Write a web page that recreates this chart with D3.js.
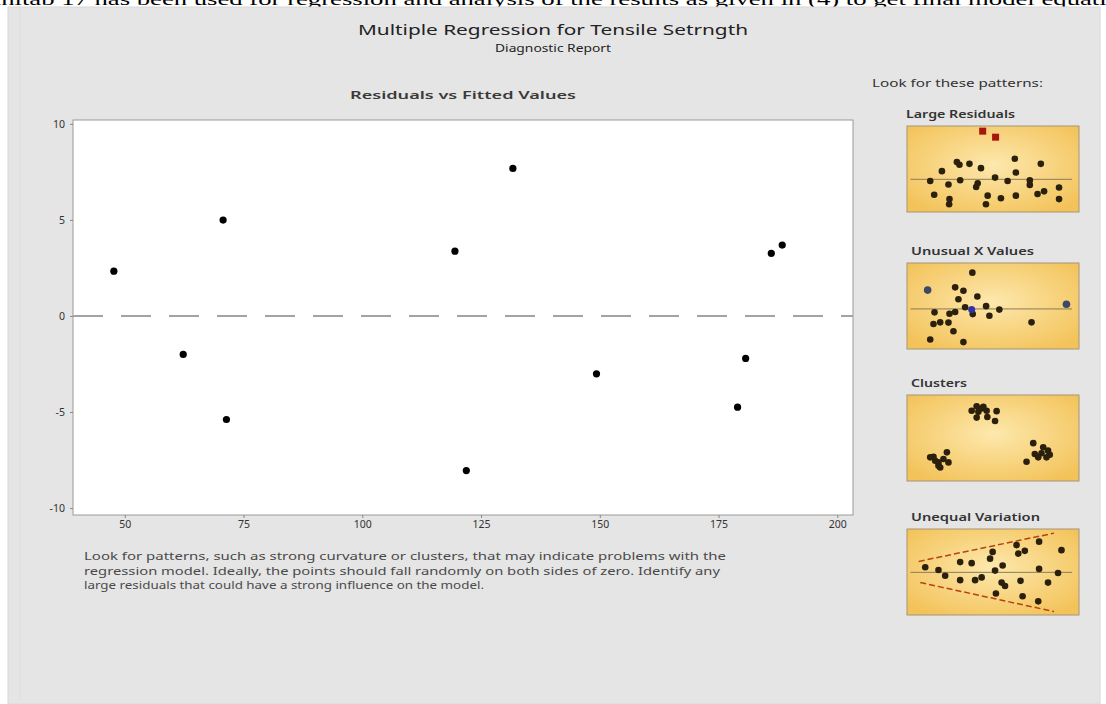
<!DOCTYPE html>
<html>
<head>
<meta charset="utf-8">
<script src="https://cdn.jsdelivr.net/npm/d3@7"></script>
<style>
	body { margin: 0; background: #fff; }
	svg { display: block; }
</style>
</head>
<body>
<svg id="chart" width="1106" height="704"></svg>
<script>

// residuals vs fitted values
const fitted = [47.7, 62.3, 70.7, 71.4, 119.5, 121.9, 131.7, 149.3, 179.0, 180.7, 186.1, 188.4]
const residuals = [2.33, -2.0, 4.99, -5.39, 3.37, -8.05, 7.68, -3.01, -4.75, -2.21, 3.26, 3.69]
const xTicks = [50, 75, 100, 125, 150, 175, 200]
const yTicks = [-10, -5, 0, 5, 10]

// pattern thumbnails, x and y on a 0..100 scale
const largeResDots = [[13.5, 36], [15.8, 20], [20.3, 47.5], [24.1, 32], [24.7, 15], [24.5, 9], [29, 58], [30.5, 55],
	[30.9, 37], [36.3, 56], [40.2, 29], [41.1, 33.5], [43, 51], [46.9, 19], [45.9, 9], [51.2, 40], [54.6, 16],
	[58.5, 36], [62.7, 62], [63.3, 46], [63.3, 19], [71.4, 37], [71.4, 31.5], [75.9, 21], [79.7, 24], [77.8, 56],
	[88.4, 28.5], [88.4, 15]]
const largeResOutliers = [[44, 94], [51.5, 87]]
const unusualXDots = [[16, 42.6], [15.4, 29], [19.3, 31], [24.1, 30.7], [13.5, 11], [27, 20.7], [32.8, 8], [28, 71.7],
	[32.8, 67.7], [29.9, 57.8], [24.7, 41], [28, 43], [33.8, 48.6], [38.2, 40.6], [40.9, 61], [46, 49.8],
	[47.9, 38.6], [53.7, 45.8], [72.4, 31], [38, 88.8]]
const unusualXOutliers = [[12, 68.5], [92.7, 52]]
const unusualXBlue = [[37.6, 45.8]]
const clusterDots = [[40.5, 87], [44.4, 86.3], [37.6, 81.6], [41.5, 80.4], [46.3, 81.6], [52.1, 81.2], [40.5, 73.7],
	[46.7, 74.5], [51.2, 69.8], [43.4, 84.3],
	[13.5, 27.5], [16.4, 23.5], [18.3, 21.6], [19.3, 15.7], [23.2, 33.3], [24.1, 21.6], [15.4, 28.2], [21.2, 25.5], [18.3, 17.6],
	[73.4, 44], [69.5, 22.4], [74.3, 31.4], [78.2, 32.2], [82, 35.3], [83, 30.6], [76.3, 27.5], [79.2, 39.2], [81.1, 27.5]]
const unequalDots = [[10.6, 55.6], [18.3, 52.4], [22.2, 45.6], [30.9, 61.5], [30.9, 40.5], [37.6, 60.3], [39.6, 40.5],
	[43.4, 43.7], [48.3, 65.5], [49.8, 73.4], [51.2, 51.6], [55, 37.7], [55.6, 57.5], [57, 33.7], [51.7, 25],
	[63.7, 81.3], [64.7, 71.4], [68.5, 74.6], [66, 39.7], [67.2, 21.8], [76.8, 85.3], [76.8, 53.6], [76.3, 15.9],
	[82, 37.7], [87.8, 48.8], [89.8, 75.4]]
const unequalBounds = [[[6.8, 62.3], [85.5, 95.2]], [[7.7, 37.7], [85.5, 4]]]

const patterns = [
	{ title: 'Large Residuals', mid: 38, dots: largeResDots, red: largeResOutliers, lines: [] },
	{ title: 'Unusual X Values', mid: 46.6, dots: unusualXDots, grey: unusualXOutliers, blue: unusualXBlue, lines: [] },
	{ title: 'Clusters', mid: null, dots: clusterDots, lines: [] },
	{ title: 'Unequal Variation', mid: 49.6, dots: unequalDots, lines: unequalBounds }
]

const bodyText = [
	'Look for patterns, such as strong curvature or clusters, that may indicate problems with the',
	'regression model. Ideally, the points should fall randomly on both sides of zero. Identify any',
	'large residuals that could have a strong influence on the model.'
]
const bodyWidths = [642, 636, 400]

const svg = d3.select('#chart')
const font = '"Noto Sans", "Open Sans", sans-serif'

// clipped line of the page text above the report
svg.append('text')
	.attr('x', -30)
	.attr('y', 5)
	.attr('textLength', 1150)
	.attr('lengthAdjust', 'spacingAndGlyphs')
	.style('font-family', '"Liberation Serif", serif')
	.style('font-size', '17px')
	.style('fill', '#000')
	.text('Minitab 17 has been used for regression and analysis of the results as given in (4) to get final model equatio')

svg.append('rect')
	.attr('x', 8)
	.attr('y', 7)
	.attr('width', 1092)
	.attr('height', 697)
	.style('fill', '#e5e5e5')
	.style('stroke', '#d8d8d8')

svg.append('line')
	.attr('x1', 20).attr('x2', 20)
	.attr('y1', 7).attr('y2', 700)
	.style('stroke', '#dcdcdc')

svg.append('text')
	.attr('x', 553)
	.attr('y', 35)
	.attr('text-anchor', 'middle')
	.attr('textLength', 390)
	.attr('lengthAdjust', 'spacingAndGlyphs')
	.style('font-family', font)
	.style('font-size', '15px')
	.style('fill', '#222')
	.text('Multiple Regression for Tensile Setrngth')

svg.append('text')
	.attr('x', 553)
	.attr('y', 52)
	.attr('text-anchor', 'middle')
	.attr('textLength', 116)
	.attr('lengthAdjust', 'spacingAndGlyphs')
	.style('font-family', font)
	.style('font-size', '11.5px')
	.style('fill', '#222')
	.text('Diagnostic Report')

// main plot
const plot = { left: 73, right: 853, top: 120, bottom: 515 }

const xScale = d3.scaleLinear()
	.domain([39.1, 203.3])
	.range([plot.left, plot.right])

const yScale = d3.scaleLinear()
	.domain([-10.36, 10.2])
	.range([plot.bottom, plot.top])

svg.append('text')
	.attr('x', (plot.left + plot.right) / 2)
	.attr('y', 99)
	.attr('text-anchor', 'middle')
	.attr('textLength', 226)
	.attr('lengthAdjust', 'spacingAndGlyphs')
	.style('font-family', font)
	.style('font-size', '11.5px')
	.style('font-weight', 600)
	.style('fill', '#3a3a3a')
	.text('Residuals vs Fitted Values')

svg.append('rect')
	.attr('x', plot.left)
	.attr('y', plot.top)
	.attr('width', plot.right - plot.left)
	.attr('height', plot.bottom - plot.top)
	.style('fill', '#fff')
	.style('stroke', '#9a9a9a')

const yAxis = svg.append('g')
	.attr('transform', `translate(${plot.left},0)`)
	.call(d3.axisLeft(yScale).tickValues(yTicks).tickFormat(d => String(d)).tickSize(3).tickPadding(5))
yAxis.select('.domain').remove()

const xAxis = svg.append('g')
	.attr('transform', `translate(0,${plot.bottom})`)
	.call(d3.axisBottom(xScale).tickValues(xTicks).tickFormat(d => String(d)).tickSize(3).tickPadding(3))
xAxis.select('.domain').remove()

svg.selectAll('.tick text')
	.style('font-family', font)
	.style('font-size', '10.5px')
	.style('fill', '#333')
svg.selectAll('.tick line')
	.style('stroke', '#888')

svg.append('line')
	.attr('x1', plot.left)
	.attr('x2', plot.right)
	.attr('y1', yScale(0))
	.attr('y2', yScale(0))
	.attr('stroke-dasharray', '30,18')
	.style('stroke', '#a3a3a3')
	.style('stroke-width', 2)

svg.append('g')
	.selectAll('circle')
	.data(fitted)
	.enter()
	.append('circle')
	.attr('cx', d => xScale(d))
	.attr('cy', (d, i) => yScale(residuals[i]))
	.attr('r', 3.6)
	.style('fill', '#000')

svg.append('g')
	.selectAll('text')
	.data(bodyText)
	.enter()
	.append('text')
	.attr('x', 84)
	.attr('y', (d, i) => 560 + i * 14.5)
	.attr('textLength', (d, i) => bodyWidths[i])
	.attr('lengthAdjust', 'spacingAndGlyphs')
	.style('font-family', font)
	.style('font-size', '10.5px')
	.style('fill', '#4a4a4a')
	.text(d => d)

// pattern thumbnails on the right
svg.append('text')
	.attr('x', 872)
	.attr('y', 87)
	.attr('textLength', 171)
	.attr('lengthAdjust', 'spacingAndGlyphs')
	.style('font-family', font)
	.style('font-size', '10px')
	.style('fill', '#333')
	.text('Look for these patterns:')

const grad = svg.append('defs')
	.append('radialGradient')
	.attr('id', 'gold')
	.attr('cx', '50%').attr('cy', '45%').attr('r', '65%')
grad.append('stop').attr('offset', '0%').attr('stop-color', '#fde8ad')
grad.append('stop').attr('offset', '100%').attr('stop-color', '#f3c35a')

const box = { left: 907, width: 172, height: 86 }
const boxTops = [126, 263, 395, 529]
const titleWidths = [109, 123, 56, 129]

const px = d3.scaleLinear().domain([0, 100]).range([0, box.width])
const py = d3.scaleLinear().domain([0, 100]).range([box.height, 0])

const panel = svg.selectAll('g.pattern')
	.data(patterns)
	.enter()
	.append('g')
	.attr('class', 'pattern')
	.attr('transform', (d, i) => `translate(${box.left},${boxTops[i]})`)

panel.append('text')
	.attr('x', (d, i) => (i === 0 ? -1 : 4))
	.attr('y', -8)
	.attr('textLength', (d, i) => titleWidths[i])
	.attr('lengthAdjust', 'spacingAndGlyphs')
	.style('font-family', font)
	.style('font-size', '10px')
	.style('font-weight', 600)
	.style('fill', '#333')
	.text(d => d.title)

panel.append('rect')
	.attr('width', box.width)
	.attr('height', box.height)
	.style('fill', 'url(#gold)')
	.style('stroke', '#a39676')

panel.filter(d => d.mid !== null)
	.append('line')
	.attr('x1', px(2))
	.attr('x2', px(96))
	.attr('y1', d => py(d.mid))
	.attr('y2', d => py(d.mid))
	.style('stroke', '#8c7c55')

panel.selectAll('line.bound')
	.data(d => d.lines)
	.enter()
	.append('line')
	.attr('class', 'bound')
	.attr('x1', d => px(d[0][0]))
	.attr('y1', d => py(d[0][1]))
	.attr('x2', d => px(d[1][0]))
	.attr('y2', d => py(d[1][1]))
	.attr('stroke-dasharray', '6,3')
	.style('stroke', '#b8420f')
	.style('stroke-width', 1.5)

panel.selectAll('circle.dot')
	.data(d => d.dots)
	.enter()
	.append('circle')
	.attr('class', 'dot')
	.attr('cx', d => px(d[0]))
	.attr('cy', d => py(d[1]))
	.attr('r', 3.3)
	.style('fill', '#2b200c')

panel.selectAll('circle.grey')
	.data(d => d.grey || [])
	.enter()
	.append('circle')
	.attr('class', 'grey')
	.attr('cx', d => px(d[0]))
	.attr('cy', d => py(d[1]))
	.attr('r', 3.8)
	.style('fill', '#3c4868')

panel.selectAll('circle.blue')
	.data(d => d.blue || [])
	.enter()
	.append('circle')
	.attr('class', 'blue')
	.attr('cx', d => px(d[0]))
	.attr('cy', d => py(d[1]))
	.attr('r', 3.5)
	.style('fill', '#2f35a8')

panel.selectAll('rect.red')
	.data(d => d.red || [])
	.enter()
	.append('rect')
	.attr('class', 'red')
	.attr('x', d => px(d[0]) - 3.5)
	.attr('y', d => py(d[1]) - 3.5)
	.attr('width', 7)
	.attr('height', 7)
	.style('fill', '#a8170e')

</script>
</body>
</html>
